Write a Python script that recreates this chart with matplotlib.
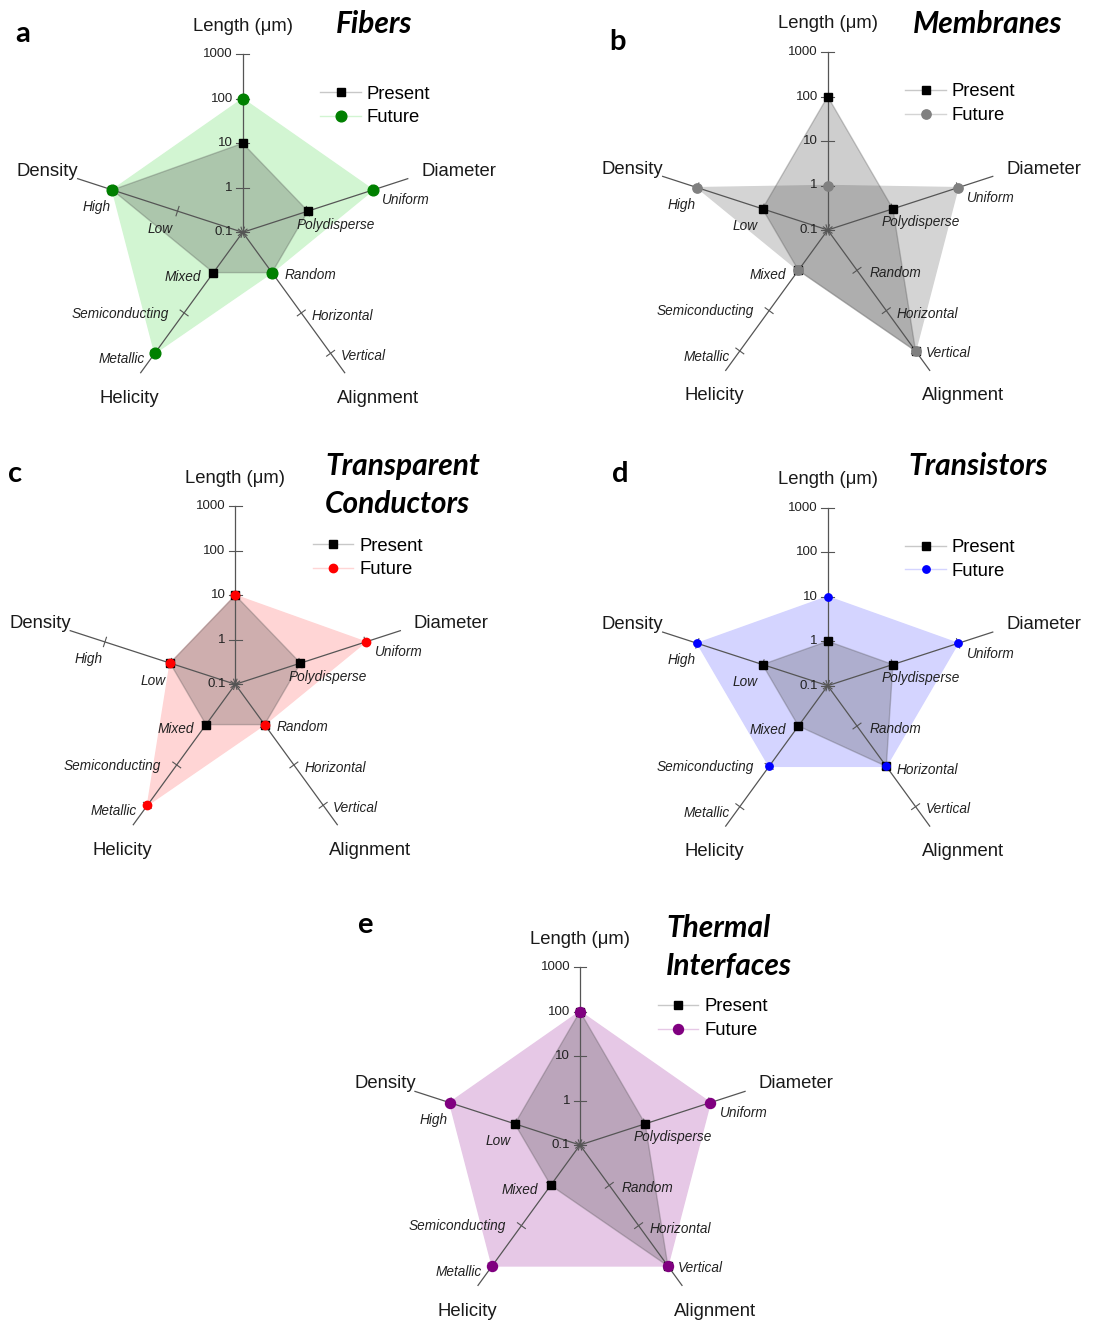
import numpy as np
import matplotlib
matplotlib.use('Agg')
import matplotlib.pyplot as plt
from matplotlib.lines import Line2D

W, H = 1109, 1323
S = 44.5  # pixels per decade on the length axis

# Radar axes, clockwise from the top
axis_names = ['Length (μm)', 'Diameter', 'Alignment', 'Helicity', 'Density']
axis_angles = [90, 18, -54, -126, 162]
length_ticks = [0.1, 1, 10, 100, 1000]
length_tick_labels = ['0.1', '1', '10', '100', '1000']
diameter_levels = ['Polydisperse', 'Uniform']
alignment_levels = ['Random', 'Horizontal', 'Vertical']
helicity_levels = ['Mixed', 'Semiconducting', 'Metallic']
density_levels = ['Low', 'High']

# Targets per application: length (μm), diameter, alignment, helicity, density
fibers_present = [10, 'Polydisperse', 'Random', 'Mixed', 'High']
fibers_future = [100, 'Uniform', 'Random', 'Metallic', 'High']
membranes_present = [100, 'Polydisperse', 'Vertical', 'Mixed', 'Low']
membranes_future = [1, 'Uniform', 'Vertical', 'Mixed', 'High']
conductors_present = [10, 'Polydisperse', 'Random', 'Mixed', 'Low']
conductors_future = [10, 'Uniform', 'Random', 'Metallic', 'Low']
transistors_present = [1, 'Polydisperse', 'Horizontal', 'Mixed', 'Low']
transistors_future = [10, 'Uniform', 'Horizontal', 'Semiconducting', 'High']
thermal_present = [100, 'Polydisperse', 'Vertical', 'Mixed', 'Low']
thermal_future = [100, 'Uniform', 'Vertical', 'Metallic', 'High']

category_axes = [None, diameter_levels, alignment_levels, helicity_levels, density_levels]
category_step = [None, 1.54, 1.12, 1.12, 1.54]
axis_length = [4.0, 3.9, 3.9, 3.9, 3.9]

# label offsets in pixels (dx, dy downwards, alignment)
cat_offsets = {
    'Polydisperse': (-11.6, 13.5, 'left'), 'Uniform': (9.2, 10.5, 'left'),
    'Random': (12.3, 2.7, 'left'), 'Horizontal': (10.7, 3.4, 'left'),
    'Vertical': (10.0, 2.3, 'left'), 'Mixed': (-12.3, 4.4, 'right'),
    'Semiconducting': (-15.3, 0.7, 'right'), 'Metallic': (-10.3, 6.0, 'right'),
    'Low': (-4.5, 17.5, 'right'), 'High': (-2.0, 17.0, 'right'),
}
name_offsets = [(0, -206), (216, -61), (135, 166), (-113, 166), (-195, -61)]

SANS = 'Liberation Sans'
TITLE_FONT = 'Lato'


def radius(i, value):
    if i == 0:
        return np.log10(value) - np.log10(length_ticks[0])
    return (category_axes[i].index(value) + 1) * category_step[i]


def to_xy(values):
    r = np.array([radius(i, v) for i, v in enumerate(values)])
    a = np.radians(axis_angles)
    return r * np.cos(a), r * np.sin(a)


def cross(ax, angle, r, half):
    a = np.radians(angle)
    px, py = r * np.cos(a), r * np.sin(a)
    nx, ny = -np.sin(a) * half, np.cos(a) * half
    ax.plot([px - nx, px + nx], [py - ny, py + ny], color='#555555', lw=0.8, zorder=3)


def radar(fig, cx, cy, present, future, color, fill, msize, letter, letter_pos,
          title, title_pos):
    hw, hh = 290, 240
    ax = fig.add_axes([(cx - hw) / W, 1 - (cy + hh) / H, 2 * hw / W, 2 * hh / H])
    ax.set_xlim(-hw / S, hw / S)
    ax.set_ylim(-hh / S, hh / S)
    ax.axis('off')
    ax.patch.set_visible(False)

    # spokes, ticks and labels
    for i, ang in enumerate(axis_angles):
        a = np.radians(ang)
        L = axis_length[i]
        ax.plot([0, L * np.cos(a)], [0, L * np.sin(a)], color='#555555', lw=0.9, zorder=3)
        cross(ax, ang, 0, 0.12)
        if i == 0:
            for t, lab in zip(length_ticks, length_tick_labels):
                r = radius(0, t)
                ax.plot([-0.14, 0.14], [r, r], color='#555555', lw=0.8, zorder=3)
                ax.text(-0.22, r, lab, ha='right', va='center', fontsize=9.5,
                        family=SANS, color='#222222', zorder=5)
        else:
            for lev in category_axes[i]:
                r = radius(i, lev)
                cross(ax, ang, r, 0.11)
                dx, dy, ha = cat_offsets[lev]
                ax.text(r * np.cos(a) + dx / S, r * np.sin(a) - dy / S, lev,
                        ha=ha, va='center', fontsize=9.8, style='italic',
                        family=SANS, color='#222222', zorder=5)
        nx, ny = name_offsets[i]
        ax.text(nx / S, -ny / S, axis_names[i], ha='center', va='center',
                fontsize=13.3, family=SANS, color='#1a1a1a')

    # filled areas
    fx, fy = to_xy(future)
    px, py = to_xy(present)
    ax.fill(fx, fy, facecolor=fill, edgecolor=fill, lw=1.0, zorder=1)
    ax.fill(px, py, facecolor=(0.24, 0.24, 0.24, 0.25), edgecolor=(0.3, 0.3, 0.3, 0.3),
            lw=1.0, zorder=2)
    ax.plot(px, py, ls='none', marker='s', ms=6.3, color='black', zorder=6)
    ax.plot(fx, fy, ls='none', marker='o', ms=msize, color=color, mec=color, zorder=7)

    handles = [
        Line2D([], [], color='#c8c8c8', lw=1.0, marker='s', ms=6.3,
               mfc='black', mec='black'),
        Line2D([], [], color=fill, lw=1.0, marker='o', ms=msize,
               mfc=color, mec=color),
    ]
    ax.legend(handles, ['Present', 'Future'], loc='center left',
              bbox_to_anchor=(77.5 / S, 126.3 / S), bbox_transform=ax.transData,
              frameon=False, borderpad=0, borderaxespad=0, handlelength=2.2,
              handletextpad=0.32, labelspacing=0.37,
              prop={'family': SANS, 'size': 13.3})

    lx, ly = letter_pos
    ax.text(lx / S, -ly / S, letter, ha='center', va='baseline', fontsize=21,
            fontweight='bold', family=TITLE_FONT, color='black')
    tx, ty = title_pos
    for k, line in enumerate(title):
        ax.text(tx / S, -(ty + 38 * k) / S, line, ha='left', va='baseline',
                fontsize=21.5, fontweight='bold', style='italic',
                family=TITLE_FONT, color='black')
    return ax


fig = plt.figure(figsize=(W / 100, H / 100), dpi=100)
fig.patch.set_facecolor('white')

radar(fig, 242.7, 232.3, fibers_present, fibers_future, '#008000', '#d2f5d2', 7.7,
      'a', (-219.7, -190), ['Fibers'], (93.3, -199.3))
radar(fig, 827.7, 230.0, membranes_present, membranes_future, '#808080', '#d4d4d4', 6.7,
      'b', (-210.4, -180), ['Membranes'], (85.6, -196.7))
radar(fig, 235.3, 684.3, conductors_present, conductors_future, '#ff0000', '#ffd5d5', 6.0,
      'c', (-220.3, -202.6), ['Transparent', 'Conductors'], (89.7, -209.3))
radar(fig, 827.7, 685.7, transistors_present, transistors_future, '#0000ff', '#d4d4ff', 5.3,
      'd', (-207.7, -204), ['Transistors'], (80.6, -210.7))
radar(fig, 580.0, 1145.0, thermal_present, thermal_future, '#800080', '#e6c8e6', 7.2,
      'e', (-215, -211.7), ['Thermal', 'Interfaces'], (86.0, -208.3))

fig.savefig('out.png', dpi=100)
